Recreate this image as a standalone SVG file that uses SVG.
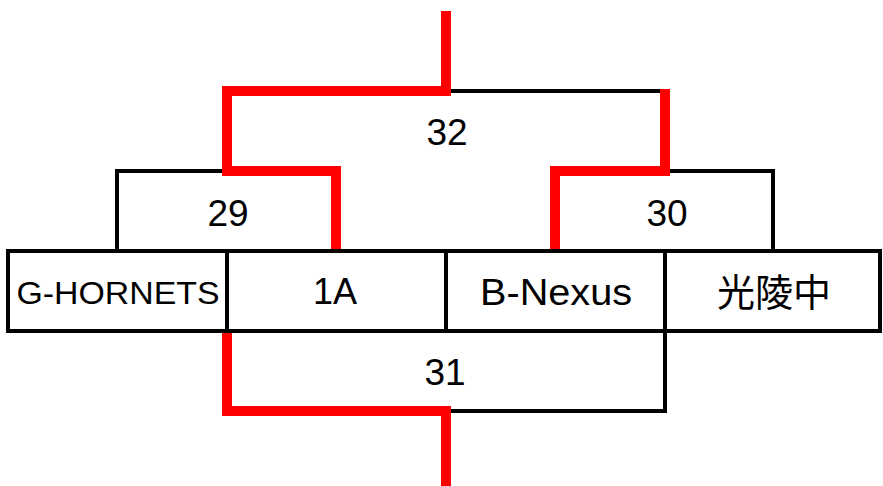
<svg xmlns="http://www.w3.org/2000/svg" width="883" height="486" viewBox="0 0 883 486">
<style>
.box{fill:#fff;stroke:#000;stroke-width:4}
.blk{fill:none;stroke:#000;stroke-width:4;stroke-linecap:square}
.win{fill:none;stroke:#ff0000;stroke-width:10;stroke-linejoin:miter;stroke-linecap:butt}
.t{font-family:"Liberation Sans","Noto Sans CJK JP",sans-serif;fill:#000;text-anchor:middle}
.m{font-size:37px}
.n{font-size:36px}
</style>
<rect width="883" height="486" fill="#fff"/>
<g id="connectors">
<path class="blk" d="M117,251 V171 H227"/>
<path class="blk" d="M665,171 H773 V251"/>
<path class="blk" d="M446,91 H665"/>
<path class="blk" d="M446,411 H665 V331"/>
<path class="win" d="M446,11 V91 H227 V171 H336 V253"/>
<path class="win" d="M665,89 V171 H555 V253"/>
<path class="win" d="M227,329 V411 H446 V486"/>
</g>
<g id="team-g-hornets">
<rect class="box" x="8" y="251" width="219" height="80"/>
<text class="t" x="118" y="304" font-size="32" textLength="203" lengthAdjust="spacingAndGlyphs">G-HORNETS</text>
</g>
<g id="team-1a">
<rect class="box" x="227" y="251" width="219" height="80"/>
<text class="t n" x="335" y="304">1A</text>
</g>
<g id="team-b-nexus">
<rect class="box" x="446" y="251" width="219" height="80"/>
<text class="t" x="556" y="305" font-size="36" textLength="152" lengthAdjust="spacingAndGlyphs">B-Nexus</text>
</g>
<g id="team-koryo">
<rect class="box" x="665" y="251" width="215" height="80"/>
<text class="t" x="774" y="306" font-size="38" style="font-family:'Noto Sans CJK JP',sans-serif">光陵中</text>
</g>
<g id="match-29"><text class="t m" x="228" y="226">29</text></g>
<g id="match-30"><text class="t m" x="667" y="226">30</text></g>
<g id="match-31"><text class="t m" x="445" y="385">31</text></g>
<g id="match-32"><text class="t m" x="447" y="145">32</text></g>
</svg>
